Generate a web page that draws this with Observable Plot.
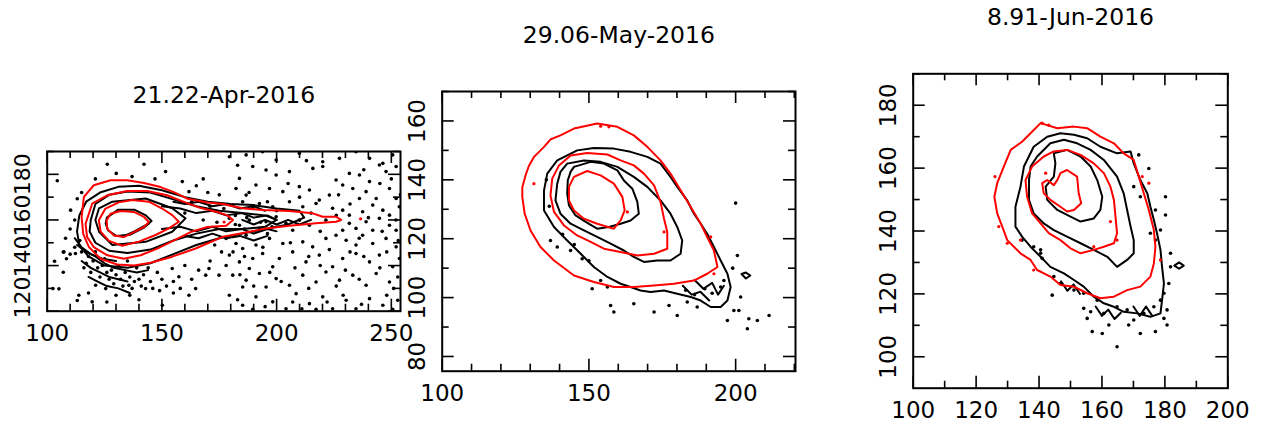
<!DOCTYPE html>
<html><head><meta charset="utf-8">
<script src="https://cdn.jsdelivr.net/npm/d3@7"></script>
<script src="https://cdn.jsdelivr.net/npm/@observablehq/plot@0.6"></script>
<style>
html,body{margin:0;padding:0;background:#fff;width:1263px;height:428px;overflow:hidden}
#wrap{position:relative;width:1263px;height:428px}
#wrap svg{position:absolute;left:0;top:0;}
</style></head><body><div id="wrap"></div>
<script>
// ---------- titles ----------
const titles = ["21.22-Apr-2016", "29.06-May-2016", "8.91-Jun-2016"];

// ---------- panel 1 (21.22-Apr-2016) ----------
const p1XMajor = [100, 150, 200, 250];
const p1XMinor = [110, 120, 130, 140, 160, 170, 180, 190, 210, 220, 230, 240];
const p1YMajor = [120, 140, 160, 180];
const p1YMinor = [130, 150, 170, 190];

const p1Red1 = [[115.0,161.3],[116.0,170.1],[120.3,175.2],[127.6,177.4],[134.9,177.4],[142.2,176.2],[149.4,174.4],[155.2,172.2],[161.1,169.3],[169.8,167.6],[176.5,167.0],[185.2,165.1],[193.9,164.4],[205.5,163.9],[215.7,162.9],[220.1,161.4],[225.9,161.4],[228.1,160.0],[225.9,159.2],[217.2,158.5],[205.5,157.5],[195.4,156.3],[188.1,154.8],[180.8,153.4],[176.5,152.6],[164.7,147.5],[154.5,143.9],[145.1,141.2],[137.8,140.0],[130.5,140.5],[123.3,143.0],[118.2,148.1],[115.7,153.9]];
const p1Red2 = [[116.7,158.3],[119.6,167.1],[126.2,170.8],[134.9,172.7],[143.6,172.7],[152.3,170.8],[159.6,167.9],[166.9,165.2],[174.1,163.5],[178.5,162.0],[181.0,160.0],[178.0,157.5],[169.8,156.9],[162.5,154.7],[155.3,151.0],[148.0,147.4],[140.7,144.5],[133.4,143.0],[126.2,144.5],[120.3,148.1],[117.4,152.5]];
const p1Red3 = [[122.5,159.9],[125.4,165.0],[131.2,167.7],[137.1,168.7],[144.3,168.0],[150.1,165.0],[154.5,162.1],[157.4,159.2],[153.0,156.3],[147.2,153.4],[140.0,150.5],[132.7,148.7],[126.9,150.8],[123.3,154.9]];
const p1Red4 = [[127.6,162.7],[132.0,163.9],[137.8,163.5],[142.2,161.3],[144.3,159.1],[142.2,156.9],[137.8,154.7],[133.4,152.5],[129.1,153.2],[126.2,156.1],[125.9,159.8]];

const p1Black1 = [[126.0,161.0],[131.0,164.5],[138.0,164.5],[143.0,162.0],[145.5,159.5],[142.0,156.5],[136.0,153.5],[130.0,153.0],[126.5,155.5],[125.5,158.5]];
const p1Black2 = [[122.6,165.1],[128.4,168.0],[142.9,169.4],[154.5,165.1],[160.3,160.7],[154.5,154.8],[142.9,150.4],[128.4,149.0],[122.6,154.8],[121.0,160.0]];
const p1Black3 = [[119.0,160.0],[121.0,167.0],[127.0,171.0],[135.0,172.5],[145.0,172.0],[155.0,169.0],[165.0,166.0],[175.0,164.0],[185.0,163.0],[195.0,162.0],[200.0,160.0],[195.0,157.0],[185.0,156.0],[175.0,156.0],[165.0,154.0],[155.0,151.0],[145.0,147.0],[135.0,145.5],[127.0,146.5],[121.0,150.0],[118.5,155.0]];
const p1Black4 = [[113.0,155.0],[114.0,162.0],[117.0,168.0],[123.0,172.0],[131.0,174.5],[140.0,175.0],[150.0,173.0],[160.0,170.0],[170.0,168.0],[180.0,167.0],[190.0,166.5],[200.0,165.0],[210.0,164.0],[212.0,161.0],[205.0,158.0],[195.0,156.0],[185.0,154.0],[175.0,152.0],[165.0,149.0],[155.0,145.0],[145.0,141.0],[135.0,139.0],[125.0,140.0],[118.0,144.0],[114.0,149.0]];
const p1Segs = [
 [[150,166],[158,165],[165,163],[172,164],[178,162],[185,163],[190,161],[196,162],[200,160]],
 [[150,156],[158,157],[165,155],[172,157],[178,155],[185,156],[190,154],[196,156],[200,155]],
 [[113,149],[117,146],[121,144],[125,141],[129,139],[134,138],[139,137],[144,138]],
 [[115,142],[119,139],[123,137],[127,135],[131,134],[135,133]],
 [[155,168],[160,167],[166,168],[172,166],[178,167],[184,165],[190,166],[195,164]],
 [[160,153],[166,152],[172,154],[178,152],[184,153],[190,151],[196,153]],
 [[185,160],[190,158],[195,160],[200,158],[205,160],[210,158],[215,160]],
 [[112,152],[115,148],[119,145],[124,143],[130,142]],
 [[118,135],[122,133],[126,131],[131,130],[136,128]],
 [[132.7,152.6],[138,155],[144.4,158.5]]
];

const p1Dots = [
 [186.7,188.5],[199.8,186.3],[220.1,185.5],[227.4,187.0],[234.6,189.9],[240.5,187.0],[246.3,184.8],[250.6,188.5],[193.9,189.9],[209.9,189.2],[179.4,187.7],
 [195.4,181.9],[205.6,181.2],[215.8,182.6],[220.1,183.4],[231.7,180.4],[236.1,179.7],[244.8,184.1],[247.7,181.2],[252.1,183.4],[183.8,178.2],[225.9,177.5],[240.5,176.8],[199.8,179.7],[189.6,183.4],
 [182.3,173.8],[191.0,175.3],[196.9,173.8],[202.7,172.4],[209.9,174.6],[214.3,173.1],[223.0,170.9],[228.8,175.3],[233.2,173.8],[239.0,172.4],[243.4,169.4],[249.2,173.8],[252.1,169.4],[186.7,170.9],[218.6,168.7],[236.1,169.4],
 [180.9,166.5],[185.2,168.0],[189.6,165.8],[192.5,167.2],[198.3,165.8],[205.6,168.0],[211.4,165.8],[217.2,167.2],[224.4,165.1],[228.8,164.3],[231.7,162.1],[237.5,163.6],[241.9,166.5],[246.3,164.3],[249.2,162.1],[253.5,165.8],
 [179.4,160.7],[183.8,157.7],[188.1,159.9],[192.5,156.3],[195.4,159.2],[199.8,161.4],[204.1,158.5],[209.9,159.9],[214.3,157.7],[221.5,159.9],[231.7,158.5],[234.6,156.3],[239.0,159.2],[241.9,155.5],[244.8,160.7],[249.2,157.7],[252.1,155.5],[228.8,155.5],[207.0,155.5],
 [178.0,151.9],[182.3,149.7],[186.7,153.3],[191.0,149.0],[196.9,151.9],[202.7,149.7],[211.4,150.4],[215.7,148.2],[221.5,151.9],[225.9,153.3],[230.3,151.1],[234.6,149.0],[237.5,153.3],[241.9,149.7],[247.7,151.9],[252.1,148.2],[185.2,147.5],
 [179.4,144.6],[183.8,141.6],[189.6,143.1],[193.9,145.3],[201.2,143.1],[207.0,146.0],[212.8,141.6],[218.6,144.6],[224.4,139.5],[228.8,143.1],[234.6,145.3],[240.5,141.6],[244.8,144.6],[250.6,139.5],[253.5,143.1],[198.3,139.5],[188.1,138.7],
 [180.9,135.8],[186.7,133.6],[192.5,136.5],[199.8,134.3],[205.6,131.4],[211.4,135.8],[217.2,132.8],[221.5,137.2],[227.4,133.6],[233.2,135.8],[239.0,131.4],[243.4,136.5],[249.2,132.8],[252.8,135.0],[195.4,130.6],[185.2,130.6],
 [179.4,127.0],[185.2,122.6],[191.0,126.3],[198.3,124.1],[204.1,121.1],[208.5,127.7],[214.3,123.3],[220.1,126.3],[224.4,121.1],[230.3,124.8],[234.6,121.1],[240.5,125.5],[246.3,122.6],[250.6,120.8],[252.8,124.8],[189.6,120.8],[217.2,120.8],
 [126.2,184.4],[142.2,184.4],[130.1,180.4],[104.4,177.2],[110.2,164.3],[107.3,146.0],[102.5,129.9],[113.8,127.0],[121.1,131.4],[125.5,129.9],[135.6,131.4],[142.9,129.9],[150.2,122.6],[161.8,127.0],[164.7,129.9],[169.1,135.8],[170.5,138.7],[174.9,135.8],[119.6,124.1],[157.4,135.1],[154.5,138.7],[158.9,176.8],[161.8,172.4],[151.6,181.2],
 [113.1,169.3],[114.2,151.0],[107.0,145.9],[103.2,141.9],[108.4,143.0],[107.0,137.1],[105.1,129.8],[113.1,124.7],[112.3,145.3],
 [112,148],[115,146],[118,144],[117,141],[120,142],[122,139],[124,140],[126,137],[128,138],[130,136],[127,134],[132,134],[134,137],[136,135],[138,133],[140,134],[142,136],[145,133],[119,137],[123,135],[129,132],[133,131],[137,130],[141,131],[116,139],[121,146],[125,143],[110,145],[131,140],[135,142],[139,139],[144,139],[148,137],[146,130],[150,134],[152,131],[155,133],[158,130],
 [160,163],[163,168],[168,160],[171,166],[174,159],[177,165],[182,158],[187,161],[193,159],[198,157],
 [183,184],[213,186],[238,182],[250,178],[205,176],[227,171],[188,172],[245,176],[196,168],[210,170],[232,167],[254,171],
 [182,162],[200,164],[215,163],[226,162],[240,161],[252,160],[186,156],[196,154],[219,155],[236,152],[246,155],
 [181,146],[194,148],[206,150],[223,147],[232,146],[248,146],[253,151],[186,144],[214,144],[238,144],
 [184,136],[197,137],[208,139],[219,140],[230,138],[245,139],[190,131],[202,133],[214,130],[226,131],[236,134],[251,130],
 [183,125],[195,122],[207,124],[222,124],[237,123],[248,127],[211,121],[229,127],
 [115,172],[121,178],[137,179],[147,178],[165,175],[170,172],[175,171],[168,178],[110,156],[108,152],[112,160],[171,142],[166,138],[160,140],[163,134],[155,128],[140,125],[130,127],[126,124],[118,128],[149,129],[136,127],[176,146],[173,149],[178,140]
];
const p1RedDots = [[236.6,160.5],[177.1,159.1]];

// ---------- panel 2 (29.06-May-2016) ----------
const p2XMajor = [100, 150, 200];
const p2XMinor = [110, 120, 130, 140, 160, 170, 180, 190, 210, 220];
const p2YMajor = [80, 100, 120, 140, 160];
const p2YMinor = [90, 110, 130, 150, 170];

const p2RedOuter = [[152.8,159.1],[148.5,158.2],[144.9,157.4],[140.3,155.1],[137.0,153.8],[134.7,151.2],[131.3,147.8],[129.5,144.6],[128.4,141.5],[127.3,137.5],[127.3,134.2],[128.1,128.5],[130.1,122.8],[133.5,117.2],[138.1,112.6],[144.9,107.5],[151.7,105.3],[158.5,103.6],[165.3,103.6],[172.2,104.1],[179.0,104.7],[185.8,105.8],[190.3,108.1],[193.8,110.4],[192.6,116.0],[190.3,120.6],[188.1,125.1],[184.7,130.8],[181.3,136.4],[177.8,142.1],[174.4,146.6],[169.9,151.2],[165.3,155.1],[159.7,158.0]];
const p2RedMid = [[143.75,148.3],[149.4,149.1],[156.3,148.6],[160.8,146.6],[165.3,144.9],[168.75,142.1],[172.2,138.1],[174.4,132.5],[175.6,126.8],[176.7,122.3],[176.7,116.6],[172.2,114.9],[166.5,114.3],[160.8,115.5],[155.1,116.6],[150.6,118.9],[146.0,121.1],[141.5,124.5],[138.1,129.1],[136.9,134.7],[137.5,140.4],[139.8,144.9]];
const p2RedInner = [[149.4,143.0],[144.9,141.0],[143.2,137.6],[143.2,133.0],[144.9,129.6],[148.3,126.8],[152.8,125.1],[158.5,123.4],[160.8,126.2],[162.2,129.6],[161.4,134.2],[158.5,138.7],[154.0,141.5]];
const p2BlackOuter = [[135.8,142.1],[139.2,146.6],[146.0,150.0],[151.7,150.8],[158.5,150.6],[164.2,149.5],[169.9,147.8],[174.4,145.5],[177.8,141.0],[180.1,137.6],[183.5,133.0],[185.8,128.5],[188.1,125.1],[190.3,121.7],[192.6,117.2],[194.9,112.6],[197.2,108.1],[198.3,103.6],[197.2,99.0],[194.9,96.8],[191.5,96.8],[188.1,99.0],[184.7,100.2],[180.1,101.3],[175.6,102.4],[171.0,101.9],[167.6,102.4],[164.2,103.6],[160.8,104.7],[156.3,107.0],[151.7,110.4],[147.2,114.9],[142.6,119.4],[138.1,124.0],[134.7,129.6],[134.7,136.4]];
const p2BlackMid = [[142.6,145.5],[148.3,146.6],[154.0,146.1],[159.7,144.4],[165.3,141.0],[169.9,137.6],[174.4,133.0],[177.8,128.5],[180.1,124.0],[181.8,119.4],[181.25,114.9],[177.8,112.6],[173.3,112.6],[168.75,112.1],[165.3,113.8],[161.9,116.0],[157.4,118.3],[152.8,120.6],[148.3,122.8],[143.75,125.1],[140.3,128.5],[138.6,133.0],[139.2,138.7],[140.3,142.7]];
const p2BlackInner = [[144.9,144.4],[150.6,146.1],[155.1,145.5],[159.7,143.2],[161.9,139.8],[164.8,137.0],[166.5,132.5],[167.0,128.5],[164.2,126.2],[160.8,125.1],[156.8,124.0],[152.8,123.4],[148.9,125.7],[145.45,127.9],[143.2,131.3],[142.6,135.3],[142.8,139.8],[143.75,142.7]];
const p2Segs = [
 [[186,106],[189,103],[192,105],[194,101],[196,104]],
 [[182,104],[185,101],[188,102],[191,99]],
 [[202,108],[203.5,106.5],[205,107.5],[203.5,108.5],[202,108]]
];
const p2Dots = [[200.0,132.1],[200.6,114.3],[199.4,95.6],[204.5,92.8],[207.4,92.2],[211.4,93.9],[197.2,92.2],[204.0,89.4],[157.4,97.3],[158.5,95.1],[172.2,95.1],[180.1,93.9],[151.1,103.0],[165.3,97.9],[177.3,97.3],[183.5,98.5],[186.9,96.8],[201.7,100.2],[201.1,95.6],[194.9,103.6],[196.0,105.8],[136.9,119.4],[143.75,116.0],[147.7,113.2],[139.2,117.2],[154.0,105.8],[156.3,103.6],[192.0,101.5],[189.5,103.0],[186.0,101.0],[183.0,102.5],[135.5,140.0],[136.5,131.0],[141.0,121.5],[145.0,118.0],[150.0,112.5],[199.0,110.0]];
const p2RedDots = [[154.0,158.2],[156.8,158.0],[131.25,138.7],[175.6,122.3],[191.5,120.6],[192.6,108.1],[163.1,129.1]];

// ---------- panel 3 (8.91-Jun-2016) ----------
const p3XMajor = [100, 120, 140, 160, 180, 200];
const p3XMinor = [110, 130, 150, 170, 190];
const p3YMajor = [100, 120, 140, 160, 180];
const p3YMinor = [110, 130, 150, 170, 190];

const p3RedOuter = [[140.5,174.3],[145.8,172.7],[151.1,173.2],[155.3,172.7],[159.5,170.0],[163.8,167.9],[166.9,164.7],[170.1,162.6],[171.7,157.3],[173.3,152.0],[174.9,146.7],[176.5,140.3],[177.0,135.0],[176.5,129.7],[175.4,125.5],[172.2,122.3],[168.0,121.2],[163.8,119.1],[159.5,118.6],[155.3,120.2],[151.1,122.3],[146.8,122.8],[143.6,125.5],[139.4,127.6],[137.3,130.8],[134.1,132.9],[132.0,135.0],[129.9,137.1],[128.3,141.4],[126.7,145.6],[125.8,150.9],[126.7,155.2],[128.8,160.5],[131.0,165.8],[134.6,168.4],[137.3,171.1]];
const p3RedMid = [[144.7,165.3],[148.9,165.8],[153.2,164.2],[157.4,161.5],[160.6,158.4],[162.7,154.1],[163.8,149.9],[164.3,144.6],[164.8,139.3],[163.8,136.1],[160.6,135.0],[157.4,134.0],[153.2,132.9],[150.0,134.5],[146.8,137.1],[143.1,139.3],[140.5,142.4],[137.8,145.6],[136.2,150.9],[135.7,156.2],[137.8,160.5],[141.5,163.7]];
const p3RedInner = [[148.9,159.4],[152.1,157.3],[152.6,152.0],[153.4,148.8],[151.1,146.7],[148.9,146.2],[146.8,147.7],[143.6,149.9],[141.5,152.0],[141.0,155.2],[142.6,156.2],[144.7,154.6],[145.8,156.2],[146.8,158.4]];
const p3BlackOuter = [[138.3,166.8],[142.6,170.0],[146.8,171.1],[151.1,170.6],[155.3,169.5],[159.5,166.8],[164.8,164.7],[169.1,165.3],[170.1,161.5],[172.2,156.2],[174.4,152.0],[175.4,147.7],[176.5,143.5],[177.5,139.3],[178.6,134.0],[179.1,128.6],[179.7,123.3],[179.1,118.0],[178.6,113.8],[175.4,112.7],[171.2,113.8],[166.9,114.3],[163.8,115.9],[160.6,117.0],[157.4,119.1],[154.2,122.3],[151.1,124.4],[147.9,126.5],[143.6,128.6],[140.5,131.8],[137.3,135.0],[134.6,138.2],[132.5,141.4],[132.5,147.7],[134.1,154.1],[135.2,160.5]];
const p3BlackMid = [[139.4,163.7],[143.6,167.9],[147.9,169.0],[152.1,167.9],[156.4,165.8],[160.6,162.6],[164.8,157.3],[166.9,152.0],[168.0,146.7],[169.1,141.4],[170.1,137.1],[170.1,132.9],[168.0,130.8],[164.8,128.6],[161.7,131.8],[157.4,134.0],[153.2,136.1],[148.9,138.2],[144.7,140.3],[141.5,142.4],[138.3,145.6],[136.8,149.9],[136.8,156.2],[137.3,160.5]];
const p3BlackInner = [[144.7,164.7],[148.9,165.8],[153.2,163.7],[156.4,160.5],[158.5,156.2],[160.1,150.9],[159.5,146.7],[157.4,144.0],[153.2,143.0],[150.0,144.6],[145.8,146.7],[142.6,149.9],[142.1,154.1],[144.7,157.3],[145.2,161.5]];
const p3Segs = [
 [[158,116],[160,113],[162,115],[164,112],[166,114]],
 [[170,116],[172,113],[174,116],[176,113]],
 [[183,129],[184.5,128],[186,129],[184.5,130],[183,129]],
 [[147,124],[149,121],[151,123],[153,120]]
];
const p3Dots = [[171.7,164.2],[174.9,159.9],[180.2,150.9],[177.0,146.7],[180.2,145.1],[181.8,132.9],[181.8,128.6],[181.25,123.3],[180.7,114.9],[179.7,112.2],[180.7,110.1],[177.0,108.0],[172.2,107.4],[168.5,110.1],[162.2,110.1],[160.1,107.4],[156.9,108.0],[164.8,103.2],[155.3,112.2],[156.4,114.3],[154.2,115.4],[144.2,119.6],[140.5,134.0],[141.0,131.3],[144.7,125.5],[146.8,123.3],[151.1,121.2],[154.2,120.2],[158.5,118.0],[160.6,113.8],[164.8,115.9],[168.0,114.9],[170.1,111.7],[173.3,113.8],[176.5,115.9],[178.6,118.0],[179.7,120.2],[140.5,132.9],[138.3,135.0],[134.6,137.1],[175.4,139.3],[177.0,137.1],[178.6,140.3],[172.2,150.9],[170.1,154.1]];
const p3RedDots = [[141.0,174.3],[143.1,173.7],[126.0,157.3],[127.2,141.4],[129.9,136.1],[134.1,137.1],[142.1,158.4],[162.7,143.0],[164.8,137.1],[172.8,157.3],[174.9,155.2],[178.6,130.8],[157.4,135.0],[138.3,127.6]];

// ---------- builder ----------
const W = 1263, H = 428;
const FONT = "DejaVu Sans";

function panel(cfg) {
  const [fl, fr, ft, fb] = cfg.frame;
  const pw = fr - fl, ph = fb - ft;
  const rows = [];
  cfg.lines.forEach((c, i) => {
    const pts = c.closed ? c.pts.concat([c.pts[0]]) : c.pts;
    pts.forEach(p => rows.push({x: p[0], y: p[1], id: i, color: c.color}));
  });
  const minor = 7, major = 12, tw = 1.6;
  const ylab = cfg.yLabelPos || (d => d);
  return Plot.plot({
    width: W, height: H,
    marginLeft: fl, marginRight: W - fr, marginTop: ft, marginBottom: H - fb,
    x: {domain: cfg.xd, axis: null},
    y: {domain: cfg.yd, axis: null},
    style: {background: "transparent", overflow: "visible"},
    marks: [
      Plot.dot(cfg.dots, {x: d => d[0], y: d => d[1], r: 1.8, fill: "black", stroke: "none", clip: true}),
      Plot.line(rows.filter(r => r.color === "black"), {x: "x", y: "y", z: "id", stroke: "black", strokeWidth: 2, strokeLinejoin: "round", clip: true}),
      Plot.line(rows.filter(r => r.color === "red"), {x: "x", y: "y", z: "id", stroke: "#ff0000", strokeWidth: 2, strokeLinejoin: "round", clip: true}),
      Plot.dot(cfg.redDots, {x: d => d[0], y: d => d[1], r: 1.6, fill: "#ff0000", stroke: "none", clip: true}),
      // ticks (inside, on all four sides)
      Plot.tickX(cfg.xMinor, {x: d => d, insetTop: ph - minor, stroke: "black", strokeWidth: tw}),
      Plot.tickX(cfg.xMinor, {x: d => d, insetBottom: ph - minor, stroke: "black", strokeWidth: tw}),
      Plot.tickX(cfg.xMajor, {x: d => d, insetTop: ph - major, stroke: "black", strokeWidth: tw}),
      Plot.tickX(cfg.xMajor, {x: d => d, insetBottom: ph - major, stroke: "black", strokeWidth: tw}),
      Plot.tickY(cfg.yMinor, {y: d => d, insetRight: pw - minor, stroke: "black", strokeWidth: tw}),
      Plot.tickY(cfg.yMinor, {y: d => d, insetLeft: pw - minor, stroke: "black", strokeWidth: tw}),
      Plot.tickY(cfg.yMajor, {y: d => d, insetRight: pw - major, stroke: "black", strokeWidth: tw}),
      Plot.tickY(cfg.yMajor, {y: d => d, insetLeft: pw - major, stroke: "black", strokeWidth: tw}),
      Plot.frame({stroke: "black", strokeWidth: 2}),
      // tick labels
      Plot.text(cfg.xMajor, {x: d => d, text: d => String(d), frameAnchor: "bottom", dy: 22.5, lineAnchor: "middle", textAnchor: "middle", fontSize: 23, fontFamily: FONT, fill: "black"}),
      Plot.text(cfg.yMajor, {y: d => ylab(d), text: d => String(d), frameAnchor: "left", dx: -24.5, rotate: -90, lineAnchor: "middle", textAnchor: "middle", fontSize: cfg.yFont || 23, fontFamily: FONT, fill: "black"}),
      // title
      Plot.text([cfg.title], {text: d => d, frameAnchor: "top", dy: -48.5, lineAnchor: "bottom", textAnchor: "middle", fontSize: 23.5, fontFamily: FONT, fill: "black"})
    ]
  });
}

const wrap = document.getElementById("wrap");

wrap.appendChild(panel({
  title: titles[0], frame: [46.7, 400, 151, 310.7], xd: [100, 254], yd: [120, 190],
  xMajor: p1XMajor, xMinor: p1XMinor, yMajor: p1YMajor, yMinor: p1YMinor,
  yLabelPos: d => 180 - (180 - d) * 0.9, yFont: 22,
  lines: [
    {pts: p1Black4, color: "black", closed: true}, {pts: p1Black3, color: "black", closed: true},
    {pts: p1Black2, color: "black", closed: true}, {pts: p1Black1, color: "black", closed: true},
    ...p1Segs.map(s => ({pts: s, color: "black"})),
    {pts: p1Red1, color: "red", closed: true}, {pts: p1Red2, color: "red", closed: true},
    {pts: p1Red3, color: "red", closed: true}, {pts: p1Red4, color: "red", closed: true}
  ],
  dots: p1Dots, redDots: p1RedDots
}));

wrap.appendChild(panel({
  title: titles[1], frame: [441.7, 795, 91, 370.7], xd: [100, 220.4], yd: [75, 170],
  xMajor: p2XMajor, xMinor: p2XMinor, yMajor: p2YMajor, yMinor: p2YMinor,
  lines: [
    {pts: p2BlackOuter, color: "black", closed: true}, {pts: p2BlackMid, color: "black", closed: true}, {pts: p2BlackInner, color: "black", closed: true},
    ...p2Segs.map(s => ({pts: s, color: "black"})),
    {pts: p2RedOuter, color: "red", closed: true}, {pts: p2RedMid, color: "red", closed: true}, {pts: p2RedInner, color: "red", closed: true}
  ],
  dots: p2Dots, redDots: p2RedDots
}));

wrap.appendChild(panel({
  title: titles[2], frame: [912.7, 1227.3, 73.3, 387.7], xd: [100, 200], yd: [90, 190],
  xMajor: p3XMajor, xMinor: p3XMinor, yMajor: p3YMajor, yMinor: p3YMinor,
  lines: [
    {pts: p3BlackOuter, color: "black", closed: true}, {pts: p3BlackMid, color: "black", closed: true}, {pts: p3BlackInner, color: "black", closed: true},
    ...p3Segs.map(s => ({pts: s, color: "black"})),
    {pts: p3RedOuter, color: "red", closed: true}, {pts: p3RedMid, color: "red", closed: true}, {pts: p3RedInner, color: "red", closed: true}
  ],
  dots: p3Dots, redDots: p3RedDots
}));
</script></body></html>
